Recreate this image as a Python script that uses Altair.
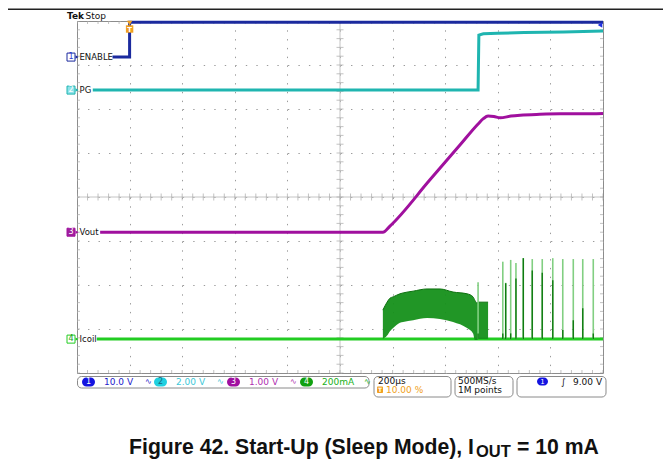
import altair as alt
import numpy as np
import pandas as pd

# ---------------- data ----------------
# time in microseconds (200 us/div, trigger at 10 %), vertical in screen divisions (0..8)
T_RANGE = [-200, 1800]
V_RANGE = [0, 8]

enable_t = [-65, 0, 0, 1800]
enable_v = [7.18, 7.18, 7.97, 7.97]

pg_t = [-140, 1325, 1328, 1345, 1400, 1500, 1650, 1800]
pg_v = [6.43, 6.43, 7.68, 7.71, 7.72, 7.74, 7.75, 7.77]

vout_t = [-112, 963, 990, 1142, 1256, 1325, 1345, 1363, 1385, 1409, 1450, 1485, 1560, 1637, 1720, 1800]
vout_v = [3.20, 3.20, 3.34, 4.39, 5.18, 5.66, 5.78, 5.84, 5.83, 5.80, 5.84, 5.86, 5.88, 5.89, 5.89, 5.90]

icoil_t = [-125, 1800]
icoil_v = [0.77, 0.77]

burst_t = [963, 979, 990, 1002, 1028, 1040, 1078, 1131, 1180, 1230, 1283, 1306, 1313, 1321, 1325, 1363]
burst_hi = [1.43, 1.61, 1.70, 1.73, 1.80, 1.82, 1.86, 1.91, 1.91, 1.84, 1.80, 1.73, 1.65, 1.59, 1.61, 1.61]
burst_lo = [0.77, 0.85, 0.95, 1.02, 1.14, 1.16, 1.20, 1.25, 1.23, 1.16, 1.02, 0.90, 0.75, 0.75, 0.77, 0.77]

spike_t = [1325, 1419, 1430, 1449, 1469, 1497, 1531, 1569, 1609, 1647, 1687, 1723, 1763]
spike_top = [2.06, 2.53, 2.05, 2.57, 2.50, 2.61, 2.59, 2.59, 2.61, 2.59, 2.59, 2.59, 2.59]
spike_dark_top = [0.90, 0.90, 2.04, 0.90, 2.15, 2.61, 2.33, 2.28, 2.11, 0.98, 1.20, 1.47, 0.90]

ch_names = ["ENABLE", "PG", "Vout", "Icoil"]
ch_nums = ["1", "2", "3", "4"]
ch_scales = ["10.0 V", "2.00 V", "1.00 V", "200mA"]
timebase = "200µs"
trig_pos = "10.00 %"
sample_rate = "500MS/s"
record_len = "1M points"
trig_level = "9.00 V"
caption_main = "Figure 42. Start-Up (Sleep Mode), I"
caption_sub = "OUT"
caption_tail = "= 10 mA"

# ---------------- styles ----------------
C_EN = "#1b2a9e"
C_PG = "#1fb5b0"
C_VO = "#a0109e"
C_IC = "#22cc22"
trace_colors = [C_EN, C_PG, C_VO, C_IC]
badge_fill = ["#ffffff", "#8fe3ea", "#a0209e", "#ffffff"]
badge_text = ["#2a3ad0", "#ffffff", "#ffffff", "#18a018"]
info_ellipse = ["#1414e0", "#20d0e0", "#a010a0", "#10a010"]
info_text = ["#2222cc", "#3cc8d8", "#b030b0", "#20b020"]

W, H = 526, 352
xs = alt.Scale(domain=T_RANGE, nice=False, zero=False)
ys = alt.Scale(domain=V_RANGE, nice=False, zero=False)
xa = alt.Axis(values=list(range(-200, 1801, 200)), grid=True, gridDash=[1.4, 7.4], gridColor="#9c9c9c",
              labels=False, ticks=False, domain=False, title=None)
ya = alt.Axis(values=list(range(0, 9)), grid=True, gridDash=[1.4, 9.12], gridColor="#9c9c9c",
              labels=False, ticks=False, domain=False, title=None)


def X(f):
    return alt.X(f, type="quantitative", scale=xs, axis=xa)


def Y(f):
    return alt.Y(f, type="quantitative", scale=ys, axis=ya)


one = pd.DataFrame({"k": [0]})
layers = []

# center crosshair lines
layers.append(alt.Chart(one).mark_rule(color="#c4c4c4", strokeWidth=1).encode(x=alt.datum(800, scale=xs, axis=xa)))
layers.append(alt.Chart(one).mark_rule(color="#c4c4c4", strokeWidth=1).encode(y=alt.datum(4, scale=ys, axis=ya)))

# minor ticks on crosshair and border (every 1/5 division)
vt = pd.DataFrame({"v": np.arange(0, 8.001, 0.2)})
tt = pd.DataFrame({"t": np.arange(-200, 1800.1, 40)})
for tx, sz in [(800, 7), (-200, 6), (1800, 6)]:
    layers.append(alt.Chart(vt).mark_tick(orient="horizontal", size=sz, thickness=1, color="#a8a8a8", clip=True)
                  .encode(x=alt.datum(tx), y=Y("v")))
for vy, sz in [(4, 7), (0, 6), (8, 6)]:
    layers.append(alt.Chart(tt).mark_tick(orient="vertical", size=sz, thickness=1, color="#a8a8a8", clip=True)
                  .encode(x=X("t"), y=alt.datum(vy)))

# Icoil
layers.append(alt.Chart(pd.DataFrame({"t": icoil_t, "v": icoil_v})).mark_line(color=C_IC, strokeWidth=3)
              .encode(x=X("t"), y=Y("v")))
bdf = pd.DataFrame({"t": burst_t, "hi": burst_hi, "lo": burst_lo})
layers.append(alt.Chart(bdf).mark_area(color="#15901a", opacity=0.95, interpolate="monotone")
              .encode(x=X("t"), y=Y("hi"), y2="lo"))
layers.append(alt.Chart(bdf).mark_line(color="#0d700f", strokeWidth=1, interpolate="monotone")
              .encode(x=X("t"), y=Y("hi")))
sdf = pd.DataFrame({"t": spike_t, "top": spike_top, "dark": spike_dark_top, "base": [icoil_v[0]] * len(spike_t)})
layers.append(alt.Chart(sdf).mark_rule(color="#82cf82", strokeWidth=1.6)
              .encode(x=X("t"), y=Y("base"), y2="top"))
layers.append(alt.Chart(sdf).mark_rule(color="#0f7a10", strokeWidth=1.4)
              .encode(x=X("t"), y=Y("base"), y2="dark"))

# Vout, PG, ENABLE
layers.append(alt.Chart(pd.DataFrame({"t": vout_t, "v": vout_v})).mark_line(color=C_VO, strokeWidth=3, interpolate="monotone")
              .encode(x=X("t"), y=Y("v")))
layers.append(alt.Chart(pd.DataFrame({"t": pg_t, "v": pg_v})).mark_line(color=C_PG, strokeWidth=3)
              .encode(x=X("t"), y=Y("v")))
layers.append(alt.Chart(pd.DataFrame({"t": enable_t, "v": enable_v})).mark_line(color=C_EN, strokeWidth=3)
              .encode(x=X("t"), y=Y("v")))

# channel ground markers and labels
levels = [enable_v[0], pg_v[0], vout_v[0], icoil_v[0]]
for i in range(4):
    d = pd.DataFrame({"v": [levels[i]], "name": [ch_names[i]], "num": [ch_nums[i]]})
    layers.append(alt.Chart(d).mark_point(shape="square", filled=True, size=64, fill=badge_fill[i],
                                          stroke=trace_colors[i], strokeWidth=1, opacity=1, xOffset=-6, clip=False)
                  .encode(x=alt.datum(T_RANGE[0]), y=Y("v")))
    layers.append(alt.Chart(d).mark_point(shape="triangle-right", filled=True, size=12, color=trace_colors[i],
                                          opacity=1, xOffset=0, clip=False)
                  .encode(x=alt.datum(T_RANGE[0]), y=Y("v")))
    layers.append(alt.Chart(d).mark_text(dx=-6, fontSize=8, font="DejaVu Sans", color=badge_text[i], baseline="middle")
                  .encode(x=alt.datum(T_RANGE[0]), y=Y("v"), text="num"))
    layers.append(alt.Chart(d).mark_text(dx=2.5, align="left", fontSize=8.5, font="DejaVu Sans", color="#111111", baseline="middle")
                  .encode(x=alt.datum(T_RANGE[0]), y=Y("v"), text="name"))

# trigger markers
layers.append(alt.Chart(one).mark_point(shape="triangle-down", filled=True, size=30, color="#f0a020", opacity=1, clip=False)
              .encode(x=alt.datum(0), y=alt.value(2)))
layers.append(alt.Chart(one).mark_point(shape="square", filled=True, size=55, color="#f0a020", opacity=1, clip=False)
              .encode(x=alt.datum(0), y=alt.value(8)))
layers.append(alt.Chart(one).mark_text(text="T", fontSize=7, fontWeight="bold", color="white", font="DejaVu Sans", clip=False)
              .encode(x=alt.datum(0), y=alt.value(8.5)))
layers.append(alt.Chart(one).mark_point(shape="triangle-left", filled=True, size=28, color="#2030e0", opacity=1, xOffset=-3, clip=False)
              .encode(x=alt.datum(T_RANGE[1]), y=alt.value(4)))


def txt(s, x, y, color="#111111", size=9, weight="normal", align="left", font="DejaVu Sans", baseline="middle"):
    return alt.Chart(one).mark_text(text=s, align=align, baseline=baseline, font=font, fontSize=size,
                                    fontWeight=weight, color=color).encode(x=alt.value(x), y=alt.value(y))


def box(x1, x2, y1, y2, fill="white", stroke=None, r=0, sw=1):
    kw = dict(fill=fill, cornerRadius=r)
    if stroke:
        kw.update(stroke=stroke, strokeWidth=sw)
    return alt.Chart(one).mark_rect(**kw).encode(x=alt.value(x1), x2=alt.value(x2), y=alt.value(y1), y2=alt.value(y2))


# header
layers.append(box(-69, 586, -12.5, -11, fill="#222222"))
layers.append(txt("Tek", -10, -5, size=9, weight="bold"))
layers.append(txt("Stop", 8.5, -5, size=9))

# info bar
layers.append(box(0.5, 292, 355.5, 367, stroke="#8a8a8a", r=4))
ell_x = [5, 77, 150, 223]
sc_x = [27, 99, 172, 245]
wave_x = [68, 140, 213, 287]
for i in range(4):
    layers.append(box(ell_x[i], ell_x[i] + 13, 356.5, 365.5, fill=info_ellipse[i], r=4.5))
    layers.append(txt(ch_nums[i], ell_x[i] + 6.5, 361, color="#ffffff" if i != 1 else "#1a6a80", size=8, align="center"))
    layers.append(txt(ch_scales[i], sc_x[i], 361, color=info_text[i], size=9))
    layers.append(txt("∿", wave_x[i], 361, color=info_text[i], size=8))
layers.append(box(297, 374, 355.5, 376, stroke="#8a8a8a", r=4))
layers.append(txt(timebase, 301, 360, size=9))
layers.append(box(300, 306, 365.5, 372, fill="#f0a020", r=1))
layers.append(txt("T", 303, 369, color="white", size=6, weight="bold", align="center"))
layers.append(txt(trig_pos, 309, 369, color="#f0a020", size=9))
layers.append(box(378, 436, 355.5, 376, stroke="#8a8a8a", r=4))
layers.append(txt(sample_rate, 381, 359.5, size=9))
layers.append(txt(record_len, 381, 369, size=9))
layers.append(box(440, 529, 355.5, 376, stroke="#8a8a8a", r=4))
layers.append(box(460, 471, 356.5, 364.5, fill=info_ellipse[0], r=4))
layers.append(txt("1", 465.5, 360.5, color="white", size=7, align="center"))
layers.append(txt("∫", 484, 360.5, size=9))
layers.append(txt(trig_level, 496, 360.5, size=9))

# caption
layers.append(txt(caption_main, 397, 433, size=21.2, weight="bold", align="right", font="Liberation Sans", baseline="alphabetic"))
layers.append(txt(caption_sub, 399, 436, size=16.5, weight="bold", font="Liberation Sans", baseline="alphabetic"))
layers.append(txt(caption_tail, 440, 433, size=21.2, weight="bold", font="Liberation Sans", baseline="alphabetic"))

chart = alt.layer(*layers).properties(
    width=W, height=H,
    autosize=alt.AutoSizeParams(type="none"),
    padding={"left": 69, "top": 13, "right": 60, "bottom": 91},
    background="white",
).configure_view(stroke="#8c8c8c", strokeWidth=1)

chart.save("out.html", embed_options={"renderer": "svg", "actions": False})
